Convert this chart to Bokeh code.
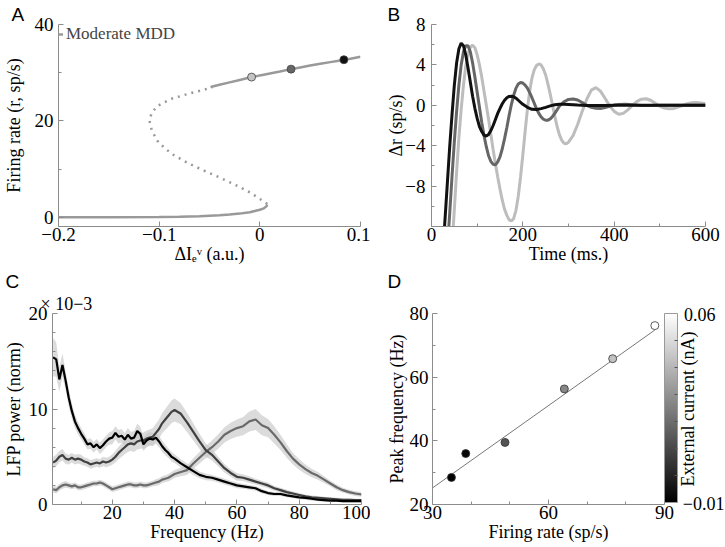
import math
from bokeh.plotting import figure
from bokeh.models import (Range1d, FixedTicker, CustomJSTickFormatter, Title,
                          ColorBar, LinearColorMapper, ColumnDataSource)
from bokeh.layouts import column, row
from bokeh.palettes import Greys256
from bokeh.embed import file_html
from bokeh.resources import INLINE

# ====================== DATA ======================
# ---- Panel A : firing rate vs ΔIe (bifurcation curve) ----
lower_x = [-0.2, -0.15, -0.1, -0.08, -0.06, -0.04, -0.03, -0.02, -0.01, -0.005, 0.0, 0.004, 0.0065, 0.0074]
lower_r = [0.03, 0.05, 0.1, 0.15, 0.25, 0.45, 0.6, 0.8, 1.1, 1.35, 1.6, 1.9, 2.3, 2.7]
unstable_x = [0.0074, 0.0025, -0.0098, -0.0228, -0.039, -0.0553, -0.0716, -0.0878, -0.1009,
              -0.1073, -0.1097, -0.1073, -0.101, -0.0878, -0.0716, -0.0585, -0.0472]
unstable_r = [2.8, 3.5, 5.2, 6.6, 8.2, 9.7, 11.3, 13.2, 15.6, 18.0, 20.1, 21.8, 23.2, 24.6, 25.6, 26.3, 27.0]
upper_x = [-0.049, -0.04, -0.03, -0.02, -0.01, 0.0, 0.01, 0.02, 0.03, 0.04, 0.05, 0.06, 0.07, 0.08, 0.09, 0.1]
upper_r = [27.05, 27.5, 28.0, 28.5, 29.0, 29.45, 29.85, 30.25, 30.7, 31.1, 31.5, 31.85, 32.2, 32.55, 32.9, 33.3]
marker_x = [-0.0082, 0.031, 0.0835]
marker_r = [29.1, 30.75, 32.7]
legend_label = "Moderate MDD"

# ---- Panel B : Δr (sp/s) vs time (ms) ----
black_t = [25, 30, 35, 40, 45, 50, 55, 60, 65, 70, 75, 80, 85, 90, 95, 100, 105, 110, 115, 120,
           125, 130, 135, 140, 145, 150, 155, 160, 165, 170, 175, 180, 185, 190,
           200, 210, 220, 230, 240, 250, 260, 270, 280, 290, 300,
           320, 340, 360, 380, 400, 450, 500, 550, 600]
black_dr = [-14.5, -11.0, -7.5, -4.0, -0.9, 2.0, 4.2, 5.6, 6.15, 5.9,
            5.0, 3.7, 2.3, 0.9, -0.3, -1.3, -2.1, -2.6, -2.95, -3.05,
            -2.9, -2.5, -2.0, -1.4, -0.8, -0.3, 0.15, 0.5, 0.75, 0.88,
            0.9, 0.85, 0.7, 0.5,
            0.1, -0.2, -0.4, -0.42, -0.33, -0.2, -0.06, 0.05, 0.1, 0.1, 0.08,
            0.02, -0.02, -0.03, -0.02, 0.0, 0.0, 0.0, 0.0, 0.0]
dark_t = [35, 40, 45, 50, 55, 60, 65, 70, 75, 80, 85, 90, 95, 100, 105, 110, 115, 120, 125, 130,
          135, 140, 145, 150, 155, 160, 165, 170, 175, 180, 185, 190, 195, 200, 205, 210, 215, 220, 225, 230,
          235, 240, 245, 250, 255, 260, 265, 270,
          280, 290, 300, 310, 320, 330, 340, 350, 360, 370, 380, 390, 400, 410,
          425, 440, 460, 480, 500, 550, 600]
dark_dr = [-14.0, -10.6, -7.0, -3.6, -0.6, 2.0, 4.0, 5.3, 5.9, 5.9,
           5.3, 4.2, 2.8, 1.3, -0.2, -1.7, -3.0, -4.1, -5.0, -5.55,
           -5.85, -5.9, -5.6, -5.1, -4.3, -3.3, -2.2, -1.0, 0.1, 1.0,
           1.7, 2.1, 2.25, 2.2, 2.0, 1.7, 1.25, 0.75, 0.2, -0.35,
           -0.8, -1.15, -1.38, -1.48, -1.47, -1.35, -1.1, -0.8,
           -0.1, 0.35, 0.58, 0.63, 0.52, 0.28, 0.0, -0.2, -0.3, -0.31, -0.22, -0.1, 0.02, 0.08,
           0.1, 0.06, -0.02, -0.03, 0.0, 0.0, 0.0]
light_t = [45, 50, 55, 60, 65, 70, 75, 80, 85, 90, 95, 100, 105, 110, 115, 120, 125, 130, 135, 140,
           145, 150, 155, 160, 165, 170, 175, 180, 185, 190, 195, 200, 205, 210, 215, 220, 225, 230, 235, 240,
           245, 250, 255, 260, 265, 270, 275, 280, 285, 290, 295, 300,
           310, 320, 330, 340, 350, 360, 370, 380, 390, 400, 410, 420, 430, 440, 450, 460, 470, 480,
           490, 500, 510, 520, 530, 540, 550, 560, 570, 580, 590, 600]
light_dr = [-14.0, -10.3, -6.6, -3.2, -0.4, 2.0, 3.9, 5.1, 5.75, 5.95,
            5.7, 5.0, 4.0, 2.8, 1.4, 0.0, -1.4, -2.9, -4.4, -5.8,
            -7.1, -8.3, -9.4, -10.3, -10.9, -11.35, -11.45, -11.2, -10.4, -9.0,
            -7.1, -4.9, -2.6, -0.4, 1.4, 2.7, 3.5, 3.95, 4.1, 4.0,
            3.6, 3.0, 2.1, 1.1, 0.0, -1.1, -2.1, -2.9, -3.45, -3.75, -3.8, -3.65,
            -3.0, -1.9, -0.6, 0.6, 1.5, 1.75, 1.4, 0.7, -0.05, -0.6, -0.88, -0.8, -0.45, 0.0, 0.4, 0.6, 0.65, 0.5,
            0.2, -0.1, -0.28, -0.35, -0.32, -0.18, 0.0, 0.15, 0.25, 0.28, 0.22, 0.15]

# ---- Panel C : LFP power (x1e-3) vs frequency (Hz) ----
freq = list(range(1, 41)) + list(range(42, 101, 2))
lfp_black = [15.4, 15.2, 13.1, 14.6, 13.0, 11.2, 9.8, 8.7, 8.0, 7.4,
             6.9, 6.3, 6.4, 6.0, 6.3, 5.9, 6.2, 6.6, 6.9, 7.0,
             7.5, 7.1, 7.2, 6.8, 7.3, 6.9, 7.0, 7.7, 7.4, 6.3,
             6.7, 6.9, 6.8, 7.0, 6.6, 6.1, 5.7, 5.4, 5.0, 4.8,
             4.3, 3.9, 3.5, 3.1, 2.9, 2.8, 2.6, 2.4, 2.2, 2.0,
             1.9, 1.8, 1.7, 1.4, 1.2, 1.1, 1.1, 0.95, 0.85, 0.75,
             0.7, 0.6, 0.5, 0.45, 0.4, 0.4, 0.35, 0.35, 0.35, 0.35]
lfp_black_err = [2.0, 1.8, 1.3, 1.2, 1.0, 0.9, 0.8, 0.7, 0.65, 0.6,
                 0.6, 0.55, 0.55, 0.55, 0.55, 0.6, 0.6, 0.6, 0.65, 0.7,
                 0.7, 0.7, 0.7, 0.7, 0.7, 0.7, 0.7, 0.75, 0.75, 0.7,
                 0.7, 0.7, 0.7, 0.65, 0.6, 0.6, 0.55, 0.5, 0.5, 0.45,
                 0.45, 0.4, 0.4, 0.35, 0.35, 0.3, 0.3, 0.3, 0.3, 0.3,
                 0.25, 0.25, 0.25, 0.25, 0.2, 0.2, 0.2, 0.2, 0.2, 0.2,
                 0.2, 0.2, 0.15, 0.15, 0.15, 0.15, 0.15, 0.15, 0.15, 0.15]
lfp_dark = [4.4, 4.6, 5.0, 5.2, 4.8, 4.7, 4.9, 4.7, 4.8, 4.7,
            4.5, 4.4, 4.2, 4.3, 4.4, 4.3, 4.5, 4.4, 4.5, 4.7,
            5.0, 5.4, 5.7, 6.0, 6.3, 6.4, 6.3, 6.6, 6.7, 6.7,
            6.9, 7.0, 7.1, 7.5, 7.9, 8.5, 8.9, 9.3, 9.7, 9.9,
            9.5, 8.6, 7.6, 6.6, 5.7, 5.2, 4.5, 3.8, 3.3, 2.9,
            2.8, 2.6, 2.4, 2.2, 2.0, 1.7, 1.5, 1.3, 1.15, 1.0,
            0.85, 0.75, 0.7, 0.65, 0.6, 0.55, 0.5, 0.5, 0.45, 0.45]
lfp_dark_err = [0.6, 0.6, 0.6, 0.6, 0.55, 0.5, 0.5, 0.5, 0.5, 0.5,
                0.45, 0.45, 0.45, 0.45, 0.45, 0.45, 0.5, 0.5, 0.5, 0.55,
                0.6, 0.65, 0.7, 0.75, 0.8, 0.8, 0.8, 0.85, 0.85, 0.85,
                0.85, 0.85, 0.9, 0.95, 1.0, 1.05, 1.1, 1.15, 1.2, 1.2,
                1.1, 1.0, 0.9, 0.8, 0.7, 0.6, 0.5, 0.45, 0.4, 0.4,
                0.35, 0.35, 0.3, 0.3, 0.3, 0.25, 0.25, 0.25, 0.2, 0.2,
                0.2, 0.2, 0.2, 0.15, 0.15, 0.15, 0.15, 0.15, 0.15, 0.15]
lfp_gray = [1.6, 1.5, 1.8, 2.0, 2.1, 2.0, 1.9, 2.0, 1.8, 1.8,
            1.9, 2.0, 2.1, 2.2, 2.2, 2.3, 2.2, 2.0, 1.8, 1.6,
            1.7, 1.8, 1.9, 2.0, 2.1, 2.1, 2.0, 2.0, 2.1, 2.0,
            2.0, 2.1, 2.2, 2.3, 2.4, 2.6, 2.7, 2.8, 3.0, 3.2,
            3.4, 3.6, 4.3, 4.9, 5.5, 6.0, 6.6, 7.3, 7.7, 8.0,
            8.2, 8.7, 8.9, 8.3, 8.0, 7.3, 6.5, 5.6, 4.8, 4.2,
            3.7, 3.3, 3.0, 2.6, 2.2, 1.8, 1.5, 1.3, 1.15, 1.05]
lfp_gray_err = [0.35, 0.35, 0.35, 0.35, 0.35, 0.3, 0.3, 0.3, 0.3, 0.3,
                0.3, 0.3, 0.3, 0.3, 0.3, 0.3, 0.3, 0.3, 0.3, 0.3,
                0.3, 0.3, 0.3, 0.3, 0.3, 0.3, 0.3, 0.3, 0.3, 0.3,
                0.3, 0.3, 0.3, 0.35, 0.35, 0.35, 0.35, 0.4, 0.4, 0.4,
                0.45, 0.5, 0.55, 0.6, 0.65, 0.7, 0.75, 0.8, 0.85, 0.9,
                0.95, 1.05, 1.1, 1.05, 0.95, 0.9, 0.8, 0.7, 0.6, 0.55,
                0.5, 0.45, 0.4, 0.35, 0.3, 0.3, 0.25, 0.25, 0.25, 0.25]

# ---- Panel D : peak frequency vs firing rate ----
rate = [34.9, 38.6, 48.75, 64.1, 76.6, 87.5]
peak = [28.5, 36.0, 39.5, 56.3, 65.8, 76.2]
current = [-0.01, -0.008, 0.013, 0.027, 0.043, 0.06]
fit_x = [30, 87.5]
fit_y = [25.2, 74.8]
cur_low, cur_high = -0.01, 0.06

# ticks
A_xt, A_yt, A_ymt = [-0.2, -0.1, 0, 0.1], [0, 20, 40], [10, 30]
B_xt, B_xmt = [0, 200, 400, 600], [100, 300, 500]
B_yt, B_ymt = [-8, -4, 0, 4, 8], [-10, -6, -2, 2, 6]
C_xt, C_xmt = [20, 40, 60, 80, 100], [10, 30, 50, 70, 90]
C_yt, C_ymt = [0, 10, 20], [2, 4, 6, 8, 12, 14, 16, 18]
D_xt, D_xmt = [30, 60, 90], [40, 50, 70, 80]
D_yt, D_ymt = [20, 40, 60, 80], [30, 50, 70]
CB_t, CB_mt = [-0.01, 0.06], [0.0, 0.01, 0.02, 0.03, 0.04, 0.05]

# ====================== STYLE / LAYOUT ======================
SERIF = "Liberation Serif"
SANS = "Liberation Sans"
AXC = "#8c8c8c"
TICK_FS = "19px"
LAB_FS = "18px"

fmt_1 = CustomJSTickFormatter(code="if (Math.abs(tick) < 1e-9) return '0'; return (tick < 0 ? '\u2212' : '') + Math.abs(tick).toFixed(1);")
fmt_i = CustomJSTickFormatter(code="return (tick < 0 ? '\u2212' : '') + Math.abs(tick).toFixed(0);")
fmt_2 = CustomJSTickFormatter(code="return tick < 0 ? '\u2212' + Math.abs(tick).toFixed(2) : tick.toFixed(2) + '\u2002';")


def style_axis(ax):
    ax.axis_line_color = AXC
    ax.axis_line_width = 1
    ax.major_tick_line_color = AXC
    ax.minor_tick_line_color = AXC
    ax.major_tick_in = 5
    ax.major_tick_out = 0
    ax.minor_tick_in = 3
    ax.minor_tick_out = 0
    ax.major_label_text_font = SERIF
    ax.major_label_text_font_size = TICK_FS
    ax.major_label_text_color = "black"
    ax.axis_label_text_font = SERIF
    ax.axis_label_text_font_size = LAB_FS
    ax.axis_label_text_font_style = "normal"
    ax.axis_label_text_color = "black"


def make_fig(w, h, xr, yr, mb, xt, xmt, yt, ymt, xfmt, yfmt, xlabel, ylabel,
             ystand=5, ylab_stand=0):
    p = figure(width=w, height=h, x_range=Range1d(*xr), y_range=Range1d(*yr),
               output_backend="svg", toolbar_location=None, tools="",
               min_border_left=mb[0], min_border_right=mb[1],
               min_border_top=mb[2], min_border_bottom=mb[3])
    p.outline_line_color = None
    p.xgrid.visible = False
    p.ygrid.visible = False
    p.xaxis.ticker = FixedTicker(ticks=xt, minor_ticks=xmt)
    p.yaxis.ticker = FixedTicker(ticks=yt, minor_ticks=ymt)
    p.xaxis.formatter = xfmt
    p.yaxis.formatter = yfmt
    style_axis(p.xaxis[0])
    style_axis(p.yaxis[0])
    p.xaxis.axis_label = xlabel
    p.yaxis.axis_label = ylabel
    p.xaxis.major_label_standoff = 1
    p.xaxis.axis_label_standoff = 0
    p.yaxis.major_label_standoff = ystand
    p.yaxis.axis_label_standoff = ylab_stand
    return p


def set_title(t, text, size, font, offset):
    t.text = text
    t.text_font = font
    t.text_font_size = size
    t.text_font_style = "normal"
    t.text_color = "black"
    t.align = "left"
    t.offset = offset
    t.standoff = 0


def add_title(p, text, size, font, offset):
    t = Title(text=text)
    set_title(t, text, size, font, offset)
    p.add_layout(t, "above")


# ---------------- Panel A ----------------
pA = make_fig(370, 266, (-0.2, 0.1), (-1.87, 40), (52, 10, 24, 40),
              A_xt, [], A_yt, A_ymt, fmt_1, fmt_i,
              "ΔIₑᵛ (a.u.)", "Firing rate (r, sp/s)", ylab_stand=8)
set_title(pA.title, "A", "19px", SANS, -47)
pA.line(lower_x, lower_r, line_color="#999999", line_width=2.5)
pA.line(unstable_x, unstable_r, line_color="#999999", line_width=2.5, line_dash="2 5")
pA.line(upper_x, upper_r, line_color="#999999", line_width=2.5, legend_label=legend_label)
pA.scatter(marker_x, marker_r, size=8, fill_color=["#c4c4c4", "#666666", "#111111"],
           line_color="#444444", line_width=0.8)
lg = pA.legend[0]
lg.location = "top_left"
lg.border_line_color = None
lg.background_fill_alpha = 0
lg.label_text_font = SERIF
lg.label_text_font_size = "17px"
lg.glyph_width = 5
lg.glyph_height = 12
lg.margin = 0
lg.padding = 1
lg.label_standoff = 3

# ---------------- Panel B ----------------
pB = make_fig(355, 266, (0, 600), (-12, 8), (61, 20, 24, 40),
              B_xt, B_xmt, B_yt, B_ymt, fmt_i, fmt_i,
              "Time (ms.)", "Δr (sp/s)", ystand=6, ylab_stand=-4)
set_title(pB.title, "B", "19px", SANS, -44)
pB.line(light_t, light_dr, line_color="#bdbdbd", line_width=3)
pB.line(dark_t, dark_dr, line_color="#666666", line_width=3)
pB.line(black_t, black_dr, line_color="#111111", line_width=3)

# ---------------- Panel C ----------------
ROW2_H, TOP2, BOT2 = 280, 47, 42
pC = make_fig(370, ROW2_H, (0.8, 100), (0, 20), (52, 9, TOP2, BOT2),
              C_xt, C_xmt, C_yt, C_ymt, fmt_i, fmt_i,
              "Frequency (Hz)", "LFP power (norm)", ylab_stand=2)
set_title(pC.title, "C", "19px", SANS, -47)
add_title(pC, "× 10−3", "18px", SERIF, -12)
for y, e in ((lfp_black, lfp_black_err), (lfp_dark, lfp_dark_err), (lfp_gray, lfp_gray_err)):
    lo = [a - b for a, b in zip(y, e)]
    hi = [a + b for a, b in zip(y, e)]
    pC.varea(x=freq, y1=lo, y2=hi, fill_color="#c8c8c8", fill_alpha=0.65)
pC.line(freq, lfp_gray, line_color="#6a6a6a", line_width=2.2)
pC.line(freq, lfp_dark, line_color="#404040", line_width=2.2)
pC.line(freq, lfp_black, line_color="#000000", line_width=2.2)

# ---------------- Panel D ----------------
pD = make_fig(309, ROW2_H, (30, 90), (20, 80), (62, 15, TOP2, BOT2),
              D_xt, D_xmt, D_yt, D_ymt, fmt_i, fmt_i,
              "Firing rate (sp/s)", "Peak frequency (Hz)", ystand=4)
set_title(pD.title, "D", "19px", SANS, -45)
add_title(pD, " ", "18px", SERIF, 0)
cmap = LinearColorMapper(palette=Greys256, low=cur_low, high=cur_high)
srcD = ColumnDataSource(dict(rate=rate, peak=peak, cur=current))
pD.line(fit_x, fit_y, line_color="#777777", line_width=1)
pD.scatter("rate", "peak", source=srcD, size=8,
           fill_color={"field": "cur", "transform": cmap}, line_color="#333333", line_width=0.8)
frame_h = ROW2_H - TOP2 - BOT2
CB_MARGIN = 1
cb = ColorBar(color_mapper=cmap, width=13, height=frame_h - 2 * CB_MARGIN, location="top_left",
              orientation="vertical", margin=CB_MARGIN, padding=0,
              ticker=FixedTicker(ticks=[], minor_ticks=CB_mt),
              label_standoff=0, major_label_text_font_size="1px",
              major_tick_line_color=None, minor_tick_line_color="#555555",
              minor_tick_in=3, minor_tick_out=0,
              bar_line_color="#999999", border_line_color=None, background_fill_alpha=0)
pD.add_layout(cb, "right")

# colour-bar scale labels and title (same vertical frame as panel D)
scale = (cur_high - cur_low) / (frame_h - 2 * CB_MARGIN)
pT = figure(width=46, height=ROW2_H,
            x_range=Range1d(0, 1),
            y_range=Range1d(cur_low - CB_MARGIN * scale, cur_high + CB_MARGIN * scale),
            output_backend="svg", toolbar_location=None, tools="",
            min_border_left=45, min_border_right=0, min_border_top=TOP2, min_border_bottom=BOT2)
pT.outline_line_color = None
pT.grid.visible = False
pT.xaxis.visible = False
yT = pT.yaxis[0]
style_axis(yT)
yT.ticker = FixedTicker(ticks=CB_t)
yT.formatter = fmt_2
yT.axis_line_color = None
yT.major_tick_line_color = None
yT.minor_tick_line_color = None
yT.major_label_text_font_size = "18px"
yT.major_label_standoff = 1
yT.axis_label = "External current (nA)"
yT.axis_label_standoff = -18

layout = column(row(pA, pB), row(pC, pD, pT))
open("out.html", "w").write(file_html(layout, INLINE))
